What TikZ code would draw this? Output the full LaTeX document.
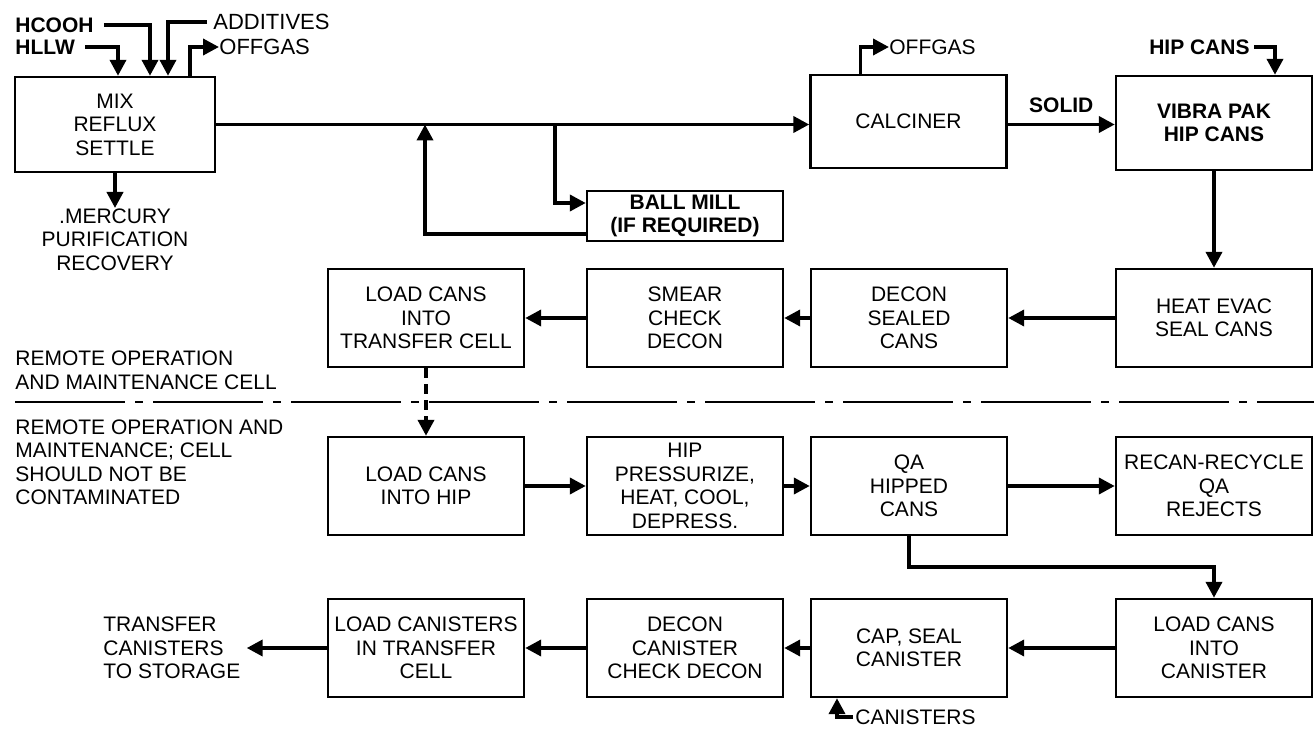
\documentclass[tikz,border=0pt]{standalone}
\usepackage{fontspec}
\setmainfont{Liberation Sans}
\usetikzlibrary{arrows.meta,positioning}

\begin{document}
\begin{tikzpicture}[x=0.5pt,y=-0.5pt,
  font=\fontsize{10.5}{11.75}\selectfont,
  box/.style={draw,line width=1.2pt,minimum width=98pt,minimum height=49pt,align=center,inner sep=0pt},
  flow/.style={line width=1.9pt,-{Triangle[length=8pt,width=8pt]}},
  lbl/.style={inner sep=0pt,align=left}]
\useasboundingbox (0,0) rectangle (1314,733);

\node[box,minimum width=100pt,minimum height=47.5pt] (mix) at (115,124.5) {MIX\\REFLUX\\SETTLE};
\node[box,minimum height=46.5pt] (calc) at (908.5,121.5) {CALCINER};
\node[box,minimum height=47pt,font=\fontsize{10.5}{11.75}\selectfont\bfseries] (vibra) at (1214,123) {VIBRA PAK\\HIP CANS};
\node[box,minimum height=25pt,font=\fontsize{10.5}{11.75}\selectfont\bfseries] (ball) at (685,216) {BALL MILL\\(IF REQUIRED)};

\node[box] (loadtc) at (426,318) {LOAD CANS\\INTO\\TRANSFER CELL};
\node[box] (smear) at (685,318) {SMEAR\\CHECK\\DECON};
\node[box] (decon) at (909,318) {DECON\\SEALED\\CANS};
\node[box] (heat) at (1214,318) {HEAT EVAC\\SEAL CANS};

\node[box] (loadhip) at (426,486) {LOAD CANS\\INTO HIP};
\node[box] (hip) at (685,486) {HIP\\PRESSURIZE,\\HEAT, COOL,\\DEPRESS.};
\node[box] (qa) at (909,486) {QA\\HIPPED\\CANS};
\node[box] (recan) at (1214,486) {RECAN-RECYCLE\\QA\\REJECTS};

\node[box] (loadcan) at (426,648) {LOAD CANISTERS\\IN TRANSFER\\CELL};
\node[box] (deconcan) at (685,648) {DECON\\CANISTER\\CHECK DECON};
\node[box] (cap) at (909,648) {CAP, SEAL\\CANISTER};
\node[box] (loadinto) at (1214,648) {LOAD CANS\\INTO\\CANISTER};

\node[lbl,anchor=west,font=\fontsize{10.5}{11.75}\selectfont\bfseries] (hcooh) at (15,25) {HCOOH};
\node[lbl,anchor=west,font=\fontsize{10.5}{11.75}\selectfont\bfseries] (hllw) at (15,47) {HLLW};
\node[lbl,anchor=west,font=\fontsize{11}{12}\selectfont] (additives) at (213,22) {ADDITIVES};
\node[lbl,anchor=west,font=\fontsize{11}{12}\selectfont] (offgas) at (219,47) {OFFGAS};
\node[lbl,align=center,anchor=north] (merc) at (115,208) {.MERCURY\\PURIFICATION\\RECOVERY};
\node[lbl,anchor=west] (offgas2) at (889,47) {OFFGAS};
\node[lbl,anchor=east,font=\fontsize{10.5}{11.75}\selectfont\bfseries] (hipcans) at (1250,47) {HIP CANS};
\node[lbl,anchor=west] (canist) at (855,717) {CANISTERS};
\node[lbl,anchor=west] (storage) at (103,648) {TRANSFER\\CANISTERS\\TO STORAGE};
\node[lbl,anchor=north west,font=\fontsize{10.5}{12}\selectfont] (cell1) at (15,350) {REMOTE OPERATION\\AND MAINTENANCE CELL};
\node[lbl,anchor=north west] (cell2) at (15,419) {REMOTE OPERATION AND\\MAINTENANCE; CELL\\SHOULD NOT BE\\CONTAMINATED};

% feeds into mixer
\draw[flow] ([xshift=5pt]hllw.east) -| ([xshift=1.5pt]mix.north);
\draw[flow] ([xshift=5pt]hcooh.east) -| ([xshift=17.5pt]mix.north);
\draw[flow] ([xshift=-3pt]additives.west) -| ([xshift=26.5pt]mix.north);
\draw[flow] ([xshift=37.5pt]mix.north) |- (offgas.west);
\draw[flow] (mix.south) -- (merc.north);

% main line
\coordinate (split) at (555,124.5);
\coordinate (rejoin) at (425,124.5);
\draw[flow] (mix.east) -- (mix.east -| calc.west);
\draw[flow] (split) |- ([yshift=6.5pt]ball.west);
\draw[flow] ([yshift=-9pt]ball.west) -| (rejoin);
\draw[flow] ([xshift=-24pt]calc.north) |- (offgas2.west);
\draw[flow] (calc.east |- mix.east) -- (mix.east -| vibra.west)
  node[midway,above=5pt,inner sep=0pt,font=\fontsize{10.5}{11.75}\selectfont\bfseries] (solid) {SOLID};
\draw[flow] ([xshift=2pt]hipcans.east) -| ([xshift=30.5pt]vibra.north);
\draw[flow] (vibra) -- (heat);

\draw[flow] (heat) -- (decon);
\draw[flow] (decon) -- (smear);
\draw[flow] (smear) -- (loadtc);
\draw[flow,dash pattern=on 5pt off 3pt] (loadtc) -- (loadhip);

\draw[line width=1.4pt,dash pattern=on 55pt off 5pt on 4pt off 5pt] (15,402) -- (1314,402);

\draw[flow] (loadhip) -- (hip);
\draw[flow] (hip) -- (qa);
\draw[flow] (qa) -- (recan);
\draw[flow] (qa.south) -- ++(0,31) -| (loadinto.north);

\draw[flow] (loadinto) -- (cap);
\draw[flow] (cap) -- (deconcan);
\draw[flow] (deconcan) -- (loadcan);
\draw[flow] (loadcan.west) -- ([xshift=3pt]storage.east |- loadcan.west);
\draw[flow] ([xshift=-1pt]canist.west) -| ([xshift=-36pt]cap.south);
\end{tikzpicture}
\end{document}
